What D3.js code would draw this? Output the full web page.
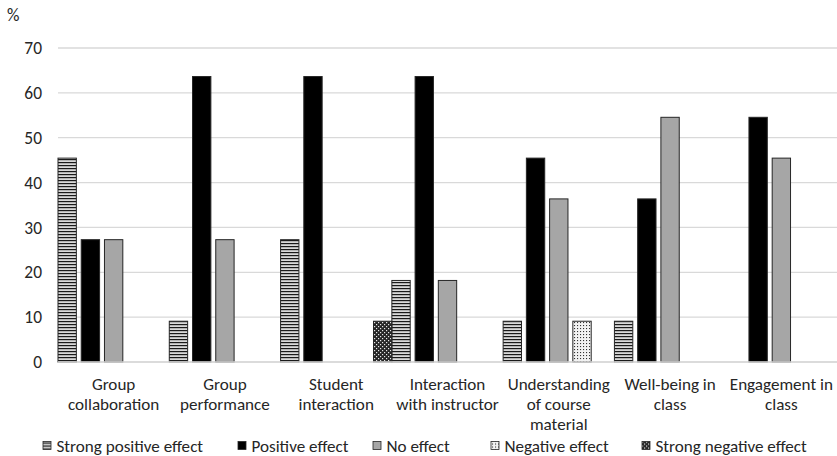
<!DOCTYPE html>
<html>
<head>
<meta charset="utf-8">
<script src="https://cdn.jsdelivr.net/npm/d3@7"></script>
<style>
  html, body { margin: 0; padding: 0; background: #fff; }
  svg { display: block; font-family: Carlito, Calibri, Lato, "Open Sans", sans-serif; }
</style>
</head>
<body>
<svg id="chart" width="837" height="456"></svg>
<script>
// Share of respondents (%) reporting each kind of effect, per aspect of class
const categories = [
  ["Group", "collaboration"],
  ["Group", "performance"],
  ["Student", "interaction"],
  ["Interaction", "with instructor"],
  ["Understanding", "of course", "material"],
  ["Well-being in", "class"],
  ["Engagement in", "class"]
];
const seriesNames = ["Strong positive effect", "Positive effect", "No effect", "Negative effect", "Strong negative effect"];
const strongPositive = [45.45, 9.09, 27.27, 18.18, 9.09, 9.09, 0];
const positive       = [27.27, 63.64, 63.64, 63.64, 45.45, 36.36, 54.55];
const noEffect       = [27.27, 27.27, 0, 18.18, 36.36, 54.55, 45.45];
const negative       = [0, 0, 0, 0, 9.09, 0, 0];
const strongNegative = [0, 0, 9.09, 0, 0, 0, 0];
const yTicks = [0, 10, 20, 30, 40, 50, 60, 70];

const seriesValues = [strongPositive, positive, noEffect, negative, strongNegative];
const fills = ["url(#hlines)", "#000000", "#a6a6a6", "url(#dots)", "url(#cross)"];

const svg = d3.select("#chart");
const margin = { left: 58, right: 0, top: 48, bottom: 94 };
const W = 837, H = 456;
const FS = 17.4;
const LFS = 17.1;
const ink = "#262626";

// Pattern fills
const defs = svg.append("defs");
const hl = defs.append("pattern").attr("id", "hlines").attr("patternUnits", "userSpaceOnUse")
  .attr("width", 4).attr("height", 3);
hl.append("rect").attr("width", 4).attr("height", 3).attr("fill", "#d9d9d9");
hl.append("rect").attr("y", 0).attr("width", 4).attr("height", 1.2).attr("fill", "#1a1a1a");

const dt = defs.append("pattern").attr("id", "dots").attr("patternUnits", "userSpaceOnUse")
  .attr("width", 3).attr("height", 3);
dt.append("rect").attr("width", 3).attr("height", 3).attr("fill", "#f2f2f2");
dt.append("rect").attr("x", 1).attr("y", 1).attr("width", 1.1).attr("height", 1.1).attr("fill", "#333");

const cr = defs.append("pattern").attr("id", "cross").attr("patternUnits", "userSpaceOnUse")
  .attr("width", 4).attr("height", 4);
cr.append("rect").attr("width", 4).attr("height", 4).attr("fill", "#262626");
cr.append("rect").attr("x", 0).attr("y", 0).attr("width", 1.2).attr("height", 1.2).attr("fill", "#e6e6e6");
cr.append("rect").attr("x", 2).attr("y", 2).attr("width", 1.2).attr("height", 1.2).attr("fill", "#e6e6e6");

const x0 = d3.scaleBand()
  .domain(d3.range(categories.length))
  .range([margin.left, W - margin.right])
  .padding(0);
const x1 = d3.scaleBand()
  .domain(d3.range(seriesNames.length))
  .range([0, x0.bandwidth()])
  .paddingInner(0.21)
  .paddingOuter(0);
const y = d3.scaleLinear().domain([0, 70]).range([H - margin.bottom, margin.top]);

// Gridlines
svg.append("g").selectAll("line").data(yTicks).join("line")
  .attr("x1", margin.left).attr("x2", W - margin.right)
  .attr("y1", d => y(d)).attr("y2", d => y(d))
  .attr("stroke", "#d9d9d9").attr("stroke-width", 1.3);

// Y axis labels
const yAxis = d3.axisLeft(y).tickValues(yTicks).tickSize(0).tickPadding(0);
const ya = svg.append("g").attr("transform", `translate(42,0)`).call(yAxis);
ya.select(".domain").remove();
ya.selectAll("text").attr("font-size", FS).attr("fill", ink)
  .attr("font-family", "Carlito, Calibri, Lato, sans-serif");

svg.append("text").attr("x", 7).attr("y", 21).attr("font-size", FS).attr("fill", ink).text("%");

// Bars
const barData = [];
seriesValues.forEach((vals, s) => vals.forEach((v, c) => barData.push({ s, c, v })));
svg.append("g").selectAll("rect").data(barData.filter(d => d.v > 0)).join("rect")
  .attr("x", d => x0(d.c) + x1(d.s))
  .attr("width", x1.bandwidth())
  .attr("y", d => y(d.v))
  .attr("height", d => y(0) - y(d.v))
  .attr("fill", d => fills[d.s])
  .attr("stroke", ink).attr("stroke-width", 1);

// Baseline
svg.append("line").attr("x1", margin.left).attr("x2", W)
  .attr("y1", y(0)).attr("y2", y(0)).attr("stroke", "#d9d9d9").attr("stroke-width", 1.3);

// Category labels
const cl = svg.append("g").selectAll("text").data(categories).join("text")
  .attr("x", (d, i) => x0(i) + x0.bandwidth() / 2)
  .attr("y", 389.5)
  .attr("text-anchor", "middle")
  .attr("font-size", LFS).attr("fill", ink);
cl.selectAll("tspan").data(d => d).join("tspan")
  .attr("x", function () { return d3.select(this.parentNode).attr("x"); })
  .attr("dy", (d, i) => i === 0 ? 0 : 20.4)
  .text(d => d);

// Legend
const legendX = [43, 238, 373, 491, 642];
const lg = svg.append("g").selectAll("g").data(seriesNames).join("g")
  .attr("transform", (d, i) => `translate(${legendX[i]},445.5)`);
lg.append("rect").attr("x", 0).attr("y", -4).attr("width", 8).attr("height", 8)
  .attr("fill", (d, i) => fills[i]).attr("stroke", ink).attr("stroke-width", 0.8);
lg.append("text").attr("x", 13.5).attr("y", 6).attr("font-size", LFS).attr("fill", ink).text(d => d);
</script>
</body>
</html>
